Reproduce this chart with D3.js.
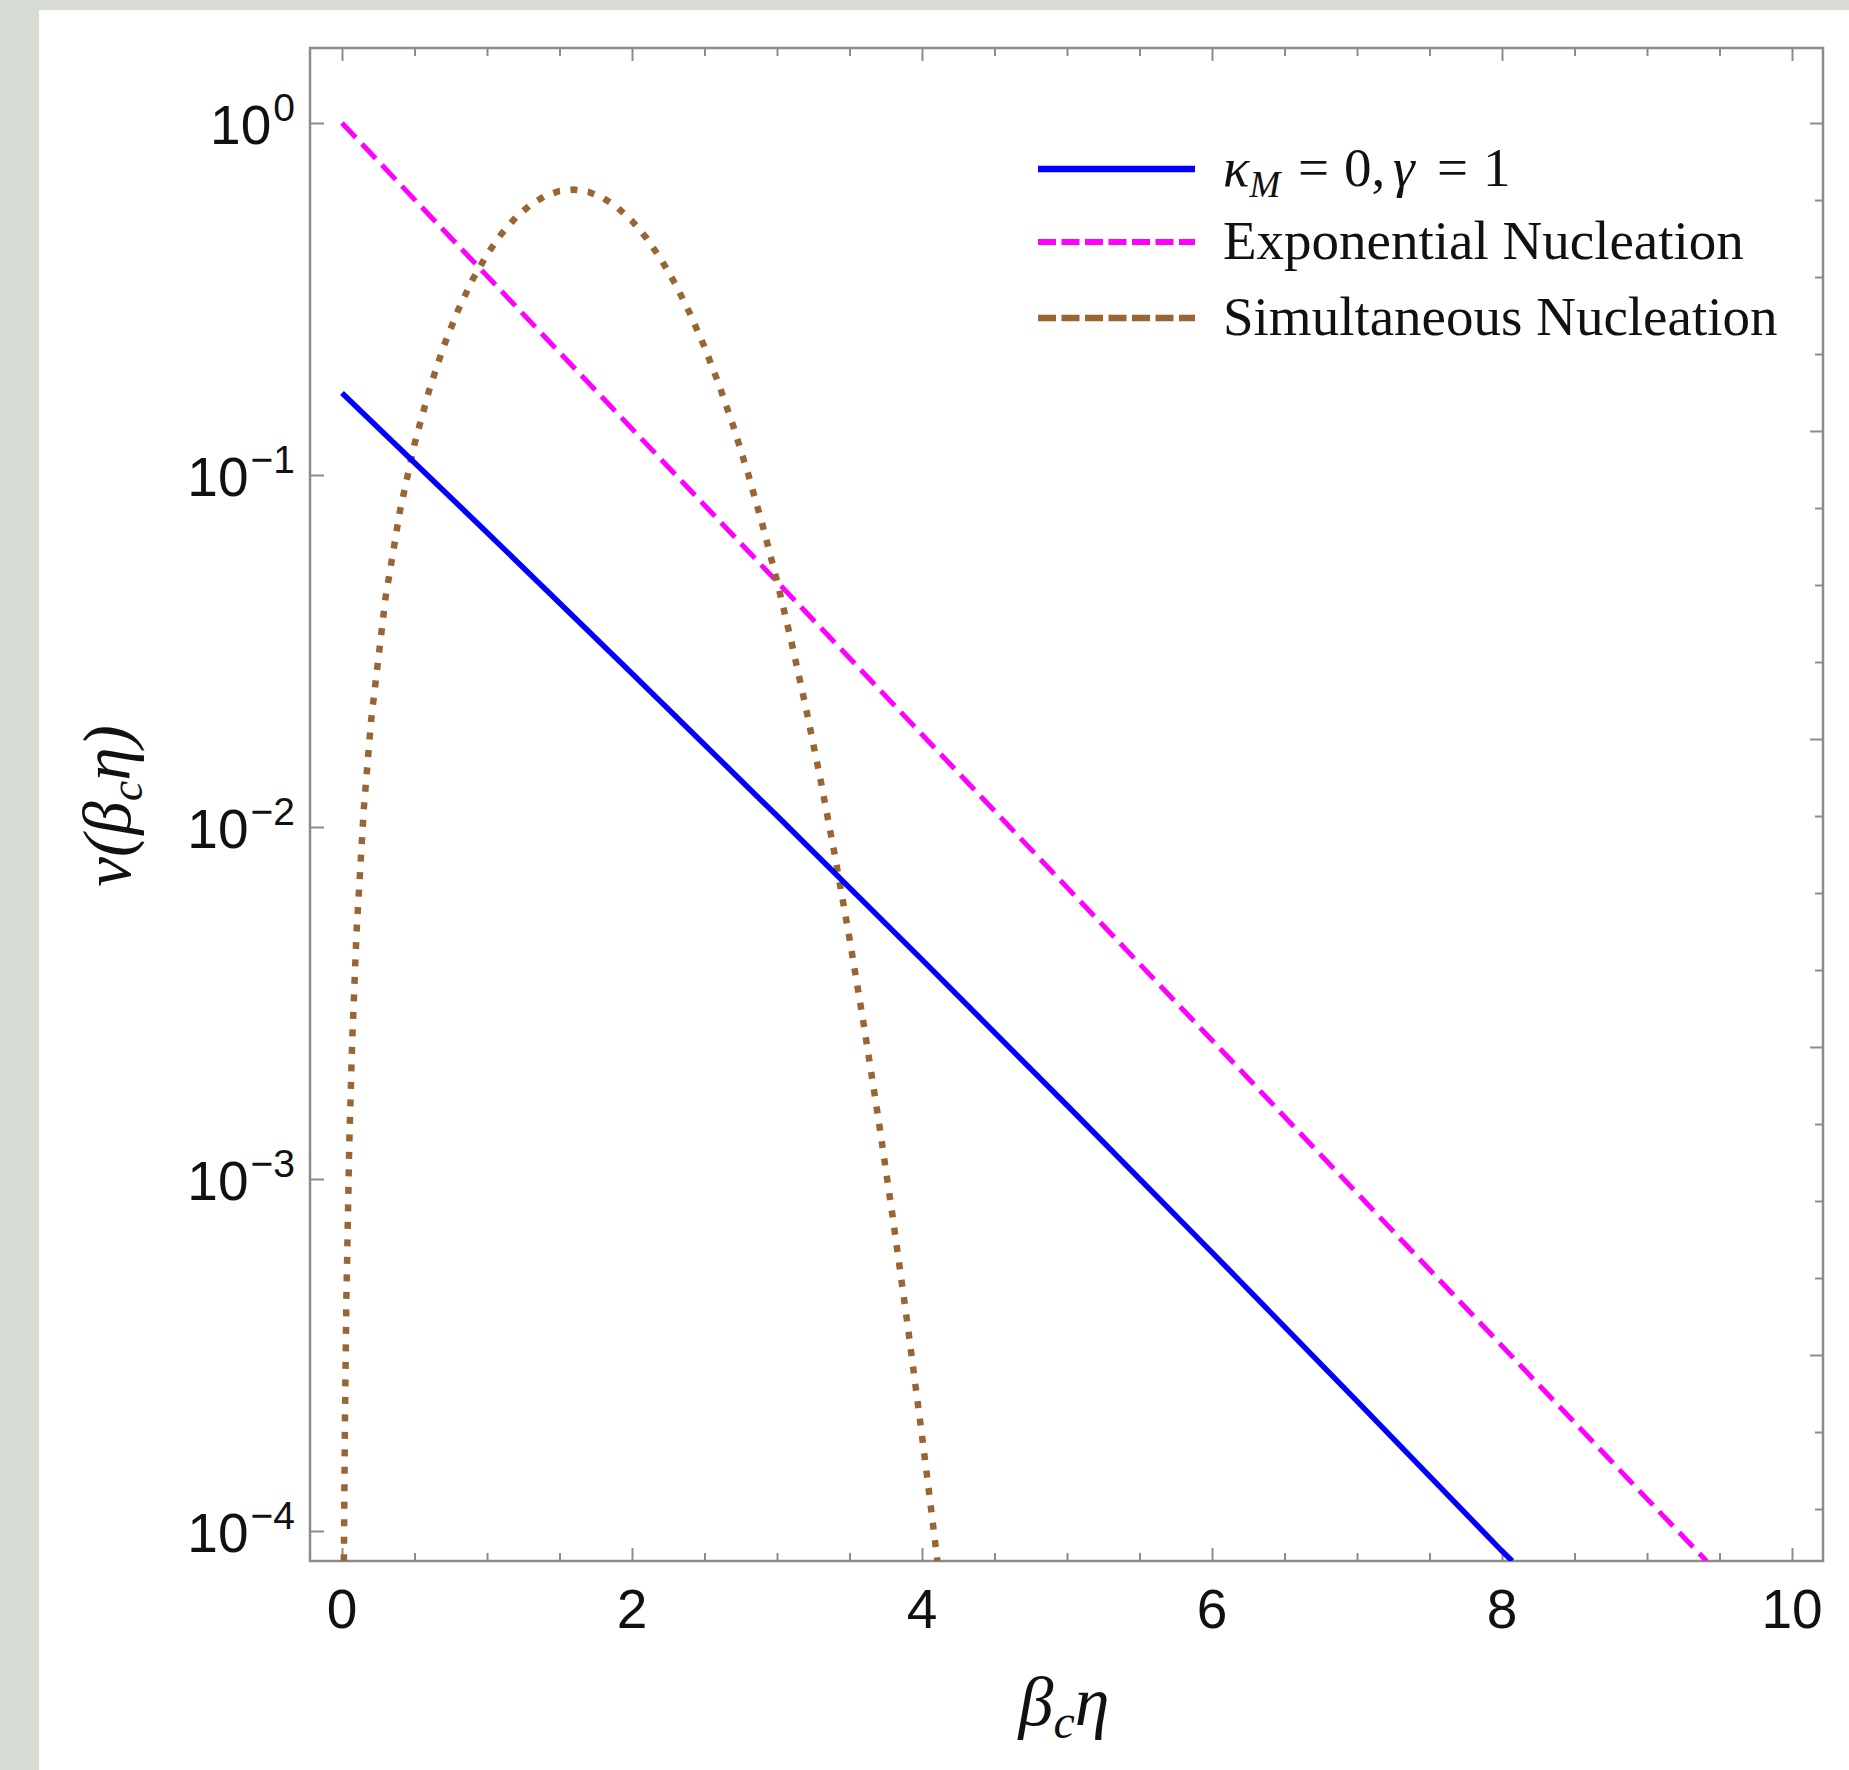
<!DOCTYPE html>
<html><head><meta charset="utf-8">
<script src="https://cdn.jsdelivr.net/npm/d3@7"></script>
<style>body{margin:0;background:#d6dcd3;} svg{display:block}</style>
</head><body>
<svg id="c" width="1849" height="1770"></svg>
<script>
// ---------- data ----------
const seriesNames = ["kappa", "Exponential Nucleation", "Simultaneous Nucleation"];
const xBlue = [0, 1, 2, 3, 4, 5, 6, 7, 8, 8.07];
const yBlue = [0.171, 0.0687, 0.0273, 0.01076, 0.0042, 0.00162, 0.000619, 0.000234, 0.0000877, 0.0000822];
const xExp = [0, 1, 2, 3, 4, 5, 6, 7, 8, 9, 9.41];
const yExp = [1, 0.3679, 0.1353, 0.04979, 0.01832, 0.006738, 0.002479, 0.000912, 0.0003355, 0.0001234, 0.0000822];
const xSim = [0.0128,0.02,0.03,0.05,0.07,0.1,0.15,0.2,0.3,0.4,0.5,0.6,0.7,0.8,0.9,1.0,1.1,1.2,1.3,1.4,1.5,1.6,1.7,1.8,1.9,2.0,2.1,2.2,2.3,2.4,2.5,2.6,2.7,2.8,2.9,3.0,3.1,3.2,3.3,3.4,3.5,3.6,3.7,3.8,3.9,4.0,4.05,4.1,4.11];
const ySim = [8.2e-5,2.0e-4,4.5e-4,1.25e-3,2.45e-3,5.0e-3,0.01124,0.01997,0.0448,0.07915,0.1224,0.1736,0.2314,0.2938,0.3587,0.4232,0.4846,0.5398,0.5859,0.6203,0.6410,0.6468,0.6372,0.6129,0.5755,0.5272,0.4711,0.4103,0.3481,0.2876,0.2311,0.1806,0.1371,0.1010,0.07218,0.04999,0.03352,0.02175,0.01364,0.00826,0.004827,0.002718,0.001476,0.000770,0.0003868,0.0001865,0.0001275,0.0000863,0.0000797];
const xMajorTicks = [0, 2, 4, 6, 8, 10];
const xMinorTicks = [0.5, 1, 1.5, 2.5, 3, 3.5, 4.5, 5, 5.5, 6.5, 7, 7.5, 8.5, 9, 9.5];
const xTickLabels = ["0", "2", "4", "6", "8", "10"];
const yDecadeExps = [0, -1, -2, -3, -4];
const yTickLabelExps = ["0", "\u22121", "\u22122", "\u22123", "\u22124"];

// ---------- layout ----------
const W = 1849, H = 1770;
const L = 310, R = 1823, T = 48, B = 1561;
const svg = d3.select("#c");
svg.append("rect").attr("x", 39).attr("y", 10).attr("width", W - 39).attr("height", H - 10).attr("fill", "#fff");

const x = d3.scaleLinear().domain([-0.2207, 10.2138]).range([L, R]);
const y = d3.scaleLog().domain([Math.pow(10, -4.0852), Math.pow(10, 0.2131)]).range([B, T]);

const axisColor = "#8c8c8c";
function styleAxis(g) {
  g.select(".domain").remove();
  g.selectAll("line").attr("stroke", axisColor).attr("stroke-width", 2);
  g.selectAll("text").remove();
}
[["axisBottom", B], ["axisTop", T]].forEach(([fn, pos]) => {
  svg.append("g").attr("transform", `translate(0,${pos})`)
    .call(d3[fn](x).tickValues(xMajorTicks).tickSize(-13).tickFormat("")).call(styleAxis);
  svg.append("g").attr("transform", `translate(0,${pos})`)
    .call(d3[fn](x).tickValues(xMinorTicks).tickSize(-8).tickFormat("")).call(styleAxis);
});
svg.append("g").attr("transform", `translate(${L},0)`)
  .call(d3.axisLeft(y).tickValues(yDecadeExps.map(e => Math.pow(10, e))).tickSize(-14).tickFormat("")).call(styleAxis);
const rightExps = d3.range(0, 19).map(k => -k * 0.21875);
svg.append("g").attr("transform", `translate(${R},0)`)
  .call(d3.axisRight(y).tickValues(rightExps.filter((e, i) => i % 4 === 0).map(e => Math.pow(10, e))).tickSize(-13).tickFormat("")).call(styleAxis);
svg.append("g").attr("transform", `translate(${R},0)`)
  .call(d3.axisRight(y).tickValues(rightExps.filter((e, i) => i % 4 !== 0).map(e => Math.pow(10, e))).tickSize(-8).tickFormat("")).call(styleAxis);

svg.append("rect").attr("x", L).attr("y", T).attr("width", R - L).attr("height", B - T)
  .attr("fill", "none").attr("stroke", axisColor).attr("stroke-width", 2.5);

// tick labels
const sans = "'Liberation Sans', Arial, Helvetica, sans-serif";
svg.append("g").selectAll("text").data(xMajorTicks).join("text")
  .attr("x", d => x(d)).attr("y", 1628).attr("text-anchor", "middle")
  .attr("font-family", sans).attr("font-size", 55).attr("fill", "#111")
  .text((d, i) => xTickLabels[i]);
const yl = svg.append("g").selectAll("text").data(yDecadeExps).join("text")
  .attr("x", 295).attr("y", d => y(Math.pow(10, d)) + 21).attr("text-anchor", "end")
  .attr("font-family", sans).attr("fill", "#111");
yl.append("tspan").attr("font-size", 55).text("10");
yl.append("tspan").attr("font-size", 39).attr("dy", -23).attr("dx", 2).text((d, i) => yTickLabelExps[i]);

// curves
svg.append("clipPath").attr("id", "clip").append("rect").attr("x", L).attr("y", T).attr("width", R - L).attr("height", B - T);
const line = d3.line().x(d => x(d[0])).y(d => y(d[1]));
const plot = svg.append("g").attr("clip-path", "url(#clip)");
plot.append("path").datum(d3.zip(xExp, yExp)).attr("d", line).attr("fill", "none")
  .attr("stroke", "#ff00ff").attr("stroke-width", 5).attr("stroke-dasharray", "20,9");
plot.append("path").datum(d3.zip(xSim, ySim)).attr("d", line).attr("fill", "none")
  .attr("stroke", "#996633").attr("stroke-width", 6.5).attr("stroke-dasharray", "7,10.5");
plot.append("path").datum(d3.zip(xBlue, yBlue)).attr("d", line).attr("fill", "none")
  .attr("stroke", "#0000ff").attr("stroke-width", 5.5);

// axis titles
const serif = "'Liberation Serif', 'Times New Roman', Times, serif";
const xt = svg.append("text").attr("x", 1064).attr("y", 1725).attr("text-anchor", "middle")
  .attr("font-family", serif).attr("font-size", 70).attr("font-style", "italic").attr("fill", "#111");
xt.append("tspan").text("\u03b2");
xt.append("tspan").attr("font-size", 48).attr("dy", 13).text("c");
xt.append("tspan").attr("dy", -13).text("\u03b7");

const yt = svg.append("text").attr("transform", "translate(130,806) rotate(-90)").attr("text-anchor", "middle")
  .attr("font-family", serif).attr("font-size", 67).attr("font-style", "italic").attr("fill", "#111");
yt.append("tspan").text("\u03bd(\u03b2");
yt.append("tspan").attr("font-size", 46).attr("dy", 12).text("c");
yt.append("tspan").attr("dy", -12).text("\u03b7)");

// legend
const legY = [169, 242, 318];
const legStyles = [
  {stroke: "#0000ff", w: 6.5, dash: null},
  {stroke: "#ff00ff", w: 6, dash: "18,5.5"},
  {stroke: "#996633", w: 6.5, dash: "18,5.5"}
];
const lg = svg.append("g");
legStyles.forEach((s, i) => {
  lg.append("line").attr("x1", 1038).attr("x2", 1195).attr("y1", legY[i]).attr("y2", legY[i])
    .attr("stroke", s.stroke).attr("stroke-width", s.w).attr("stroke-dasharray", s.dash);
});
const t0 = lg.append("text").attr("x", 1223).attr("y", legY[0] + 17).attr("font-family", serif).attr("font-size", 55).attr("fill", "#111");
t0.append("tspan").attr("font-style", "italic").text("\u03ba");
t0.append("tspan").attr("font-style", "italic").attr("font-size", 37).attr("dy", 11).text("M");
t0.append("tspan").attr("dy", -11).attr("x", 1298).text("=");
t0.append("tspan").attr("x", 1344).text("0,");
t0.append("tspan").attr("font-style", "italic").attr("x", 1393).text("\u03b3");
t0.append("tspan").attr("x", 1437).text("=");
t0.append("tspan").attr("x", 1483).text("1");
[1, 2].forEach(i => {
  lg.append("text").attr("x", 1223).attr("y", legY[i] + 17).attr("font-family", serif).attr("font-size", 55)
    .attr("fill", "#111").text(seriesNames[i]);
});
</script>
</body></html>
